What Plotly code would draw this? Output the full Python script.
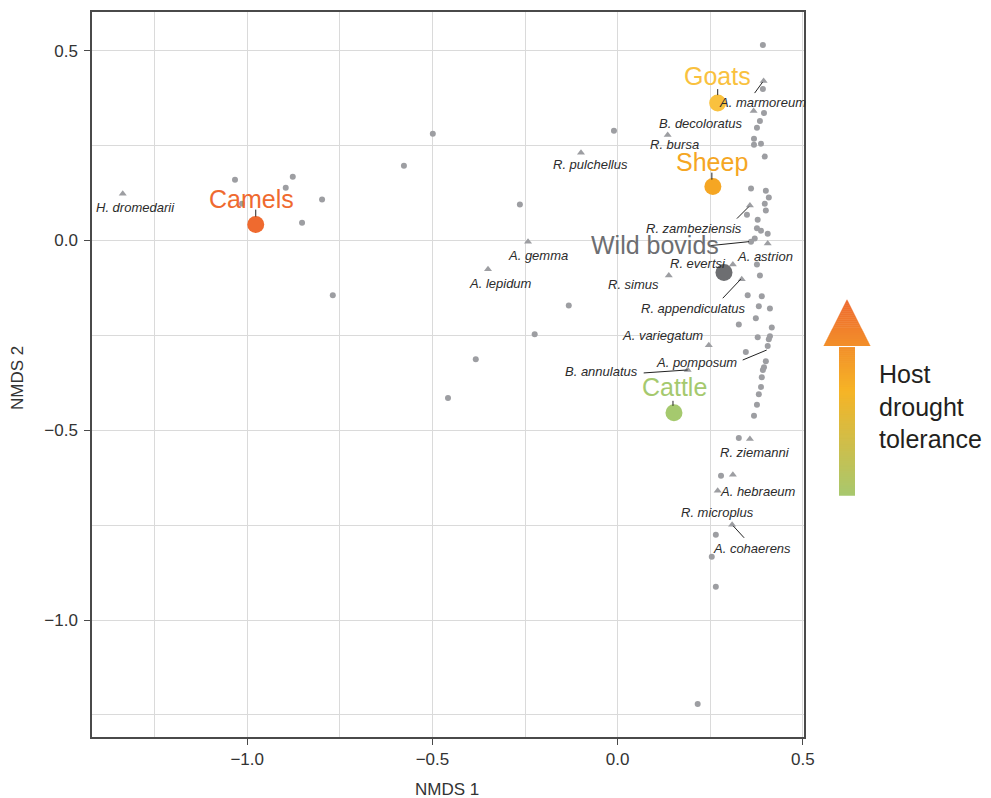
import plotly.graph_objects as go

# ---------------- data ----------------
host_names = ["Camels", "Goats", "Sheep", "Wild bovids", "Cattle"]
host_x = [-0.977, 0.270, 0.257, 0.287, 0.152]
host_y = [0.042, 0.362, 0.142, -0.084, -0.454]
host_colors = ["#EF6A2F", "#F9C13E", "#F5A623", "#6D6E71", "#A5C96E"]

# OTU / tick points shown as small grey circles
otu_x = [0.392, 0.392, 0.395, 0.384, 0.376, 0.368, 0.387, 0.368, 0.397, 0.360,
         0.400, 0.408, 0.397, 0.400, 0.349, 0.378, 0.376, 0.387, 0.405, 0.370,
         0.360, 0.376, 0.384, 0.351, 0.389, 0.381, 0.411, 0.373, 0.327, 0.416,
         0.378, 0.411, 0.408, 0.405, 0.346, 0.400, 0.395, 0.392, 0.389, 0.387,
         0.381, 0.376, 0.368, 0.327, 0.279, 0.265, 0.254, 0.265, 0.216,
         -1.033, -0.877, -0.896, -1.014, -0.798, -0.852, -0.769, -0.499, -0.577,
         -0.264, -0.010, -0.132, -0.224, -0.383, -0.458]
otu_y = [0.515, 0.399, 0.336, 0.315, 0.297, 0.268, 0.255, 0.252, 0.221, 0.137,
         0.131, 0.113, 0.097, 0.079, 0.068, 0.055, 0.032, 0.026, 0.018, 0.005,
         -0.003, -0.063, -0.092, -0.144, -0.147, -0.173, -0.179, -0.205, -0.221, -0.229,
         -0.255, -0.252, -0.260, -0.278, -0.294, -0.318, -0.334, -0.341, -0.360, -0.386,
         -0.405, -0.433, -0.462, -0.520, -0.620, -0.775, -0.833, -0.912, -1.221,
         0.160, 0.168, 0.139, 0.097, 0.108, 0.047, -0.144, 0.281, 0.197,
         0.095, 0.289, -0.171, -0.247, -0.313, -0.415]

# tick species shown as small grey triangles
species = ["H. dromedarii", "A. lepidum", "A. gemma", "R. pulchellus", "R. bursa",
           "B. decoloratus", "A. marmoreum", "R. zambeziensis", "A. astrion",
           "R. evertsi", "R. simus", "R. appendiculatus", "A. variegatum",
           "B. annulatus", "R. ziemanni", "", "A. hebraeum", "R. microplus"]
species_x = [-1.336, -0.350, -0.242, -0.099, 0.135, 0.367, 0.394, 0.357, 0.405,
             0.311, 0.138, 0.335, 0.246, 0.189, 0.357, 0.311, 0.270, 0.309]
species_y = [0.123, -0.076, -0.003, 0.231, 0.278, 0.341, 0.420, 0.092, -0.008,
             -0.063, -0.092, -0.102, -0.276, -0.341, -0.523, -0.617, -0.659, -0.749]

# ---------------- layout constants (window pixels) ----------------
BODY = 8                      # default page body margin
W, H = 991 - BODY, 798 - BODY
L, R, T, B = 92, 804, 10, 737  # plot area in window pixels
XR = [-1.419, 0.503]
YR = [-1.308, 0.602]
FONT = "Liberation Sans, Arial, Helvetica, sans-serif"
GREY = "#9d9ea2"


def px2paper(px, py):
    return (px - L) / (R - L), (B - py) / (B - T)


fig = go.Figure()

fig.add_trace(go.Scatter(x=otu_x, y=otu_y, mode="markers",
                         marker=dict(symbol="circle", size=6, color=GREY),
                         hoverinfo="skip", showlegend=False))
fig.add_trace(go.Scatter(x=species_x, y=species_y, mode="markers",
                         marker=dict(symbol="triangle-up", size=7, color=GREY),
                         hoverinfo="skip", showlegend=False))
fig.add_trace(go.Scatter(x=host_x, y=host_y, mode="markers",
                         marker=dict(symbol="circle", size=17, color=host_colors),
                         hoverinfo="skip", showlegend=False))

anchors = {n: (x, y) for n, x, y in zip(species, species_x, species_y) if n}
anchors["A. cohaerens"] = anchors["R. microplus"]
anchors["A. pomposum"] = (otu_x[33], otu_y[33])
anchors["_wild"] = (otu_x[20], otu_y[20])
for n, x, y in zip(host_names, host_x, host_y):
    anchors[n] = (x, y)

# label offsets in pixels (dx right, dy up) relative to anchor
species_offsets = {
    "H. dromedarii": (13, -14), "A. lepidum": (12, -14), "A. gemma": (10, -14),
    "R. pulchellus": (10, -12), "R. bursa": (7, -10), "B. decoloratus": (-53, -12),
    "A. marmoreum": (-1, -21), "R. zambeziensis": (-56, -23), "A. astrion": (-3, -13),
    "R. evertsi": (-35, 1), "R. simus": (-35, -9), "R. appendiculatus": (-48, -29),
    "A. variegatum": (-46, 10), "A. pomposum": (-71, -16), "B. annulatus": (-86, -2),
    "R. ziemanni": (5, -13), "A. hebraeum": (40, -1), "R. microplus": (-15, 12),
    "A. cohaerens": (20, -24),
}
host_offsets = {"Camels": (-4, 26), "Goats": (0, 27), "Sheep": (-1, 25),
                "Wild bovids": (-69, 27), "Cattle": (1, 26)}

# leader lines: anchor, (x0, y0, x1, y1) pixel offsets
leaders = [
    ("A. marmoreum", (-9, -12, -1, -1)),
    ("R. zambeziensis", (-13, -13, -1, -1)),
    ("_wild", (-41, -4, -2, 0)),
    ("R. appendiculatus", (-19, -19, -1, 0)),
    ("A. pomposum", (-25, -14, -1, -4)),
    ("B. annulatus", (-44, -3, 0, 0)),
    ("R. microplus", (1, -1, 12, -13)),
    ("Camels", (0, 15, 0, 8)),
    ("Goats", (0, 14, 0, 8)),
    ("Sheep", (-1, 14, -1, 7)),
    ("Cattle", (-1, 12, -1, 7)),
]

annotations = []
for name, (dx, dy) in species_offsets.items():
    ax_, ay_ = anchors[name]
    annotations.append(dict(x=ax_, y=ay_, xref="x", yref="y", text=f"<i>{name}</i>",
                            showarrow=False, xshift=dx, yshift=dy, borderpad=0,
                            xanchor="center", yanchor="middle",
                            font=dict(family=FONT, size=13, color="#2b2b2b")))
for name, col in zip(host_names, host_colors):
    dx, dy = host_offsets[name]
    ax_, ay_ = anchors[name]
    annotations.append(dict(x=ax_, y=ay_, xref="x", yref="y", text=name,
                            showarrow=False, xshift=dx, yshift=dy, borderpad=0,
                            xanchor="center", yanchor="middle",
                            font=dict(family=FONT, size=25, color=col)))

shapes = []
for name, (x0, y0, x1, y1) in leaders:
    ax_, ay_ = anchors[name]
    shapes.append(dict(type="line", xref="x", yref="y", xsizemode="pixel", ysizemode="pixel",
                       xanchor=ax_, yanchor=ay_, x0=x0, y0=y0, x1=x1, y1=y1,
                       line=dict(color="#222222", width=1)))

# gradient arrow
def lerp(c1, c2, t):
    return tuple(round(a + (b - a) * t) for a, b in zip(c1, c2))

def arrow_color(py):
    green, yellow, orange = (168, 200, 110), (246, 180, 38), (238, 104, 46)
    if py >= 390:
        c = lerp(yellow, green, (py - 390) / (495 - 390))
    else:
        c = lerp(orange, yellow, (py - 298) / (390 - 298))
    return "rgb(%d,%d,%d)" % c

cx, tip, base, bottom = 847, 298, 345, 495
shaft_half, head_half = 8, 23.5
step = 2
py = tip
while py < bottom:
    y_top, y_bot = py, min(py + step + 0.6, bottom)
    if y_top < base:
        yb = min(y_bot, base)
        h1 = head_half * (y_top - tip) / (base - tip)
        h2 = head_half * (yb - tip) / (base - tip)
        pts = [(cx - h1, y_top), (cx + h1, y_top), (cx + h2, yb), (cx - h2, yb)]
    else:
        pts = [(cx - shaft_half, y_top), (cx + shaft_half, y_top),
               (cx + shaft_half, y_bot), (cx - shaft_half, y_bot)]
    path = "M " + " L ".join("%.5f,%.5f" % px2paper(a, b) for a, b in pts) + " Z"
    shapes.append(dict(type="path", xref="paper", yref="paper", path=path,
                       fillcolor=arrow_color(py + step / 2), line=dict(width=0), layer="above"))
    py += step

hx, hy = px2paper(878, 406)
annotations.append(dict(x=hx, y=hy, xref="paper", yref="paper", xanchor="left", yanchor="middle",
                        align="left", showarrow=False, text="Host<br>drought<br>tolerance",
                        borderpad=0,
                        font=dict(family=FONT, size=25, color="#231f20")))

tx, ty = px2paper(447, 790)
annotations.append(dict(x=tx, y=ty, xref="paper", yref="paper", showarrow=False, text="NMDS 1",
                        xanchor="center", yanchor="middle", borderpad=0,
                        font=dict(family=FONT, size=17, color="#333333")))
tx, ty = px2paper(18, 377)
annotations.append(dict(x=tx, y=ty, xref="paper", yref="paper", showarrow=False, text="NMDS 2",
                        xanchor="center", yanchor="middle", borderpad=0,
                        textangle=-90, font=dict(family=FONT, size=17, color="#333333")))

axis_common = dict(showline=True, mirror=True, linecolor="#4a4a4a", linewidth=1.5,
                   ticks="outside", ticklen=6, tickcolor="#4a4a4a", tickwidth=1.2,
                   dtick=0.5, tick0=0, showgrid=True, gridcolor="#dadada", gridwidth=1,
                   zeroline=False,
                   minor=dict(dtick=0.25, tick0=0, showgrid=True, gridcolor="#dadada",
                              gridwidth=1, ticks=""),
                   tickfont=dict(family=FONT, size=17, color="#333333"), tickformat=".1f")

fig.update_layout(
    width=W, height=H,
    margin=dict(l=L - BODY, r=(W + BODY) - R, t=T - BODY, b=(H + BODY) - B),
    paper_bgcolor="white", plot_bgcolor="white",
    xaxis=dict(range=XR, **axis_common),
    yaxis=dict(range=YR, ticklabelstandoff=3, **axis_common),
    annotations=annotations, shapes=shapes, showlegend=False,
)

fig.write_html("out.html")
